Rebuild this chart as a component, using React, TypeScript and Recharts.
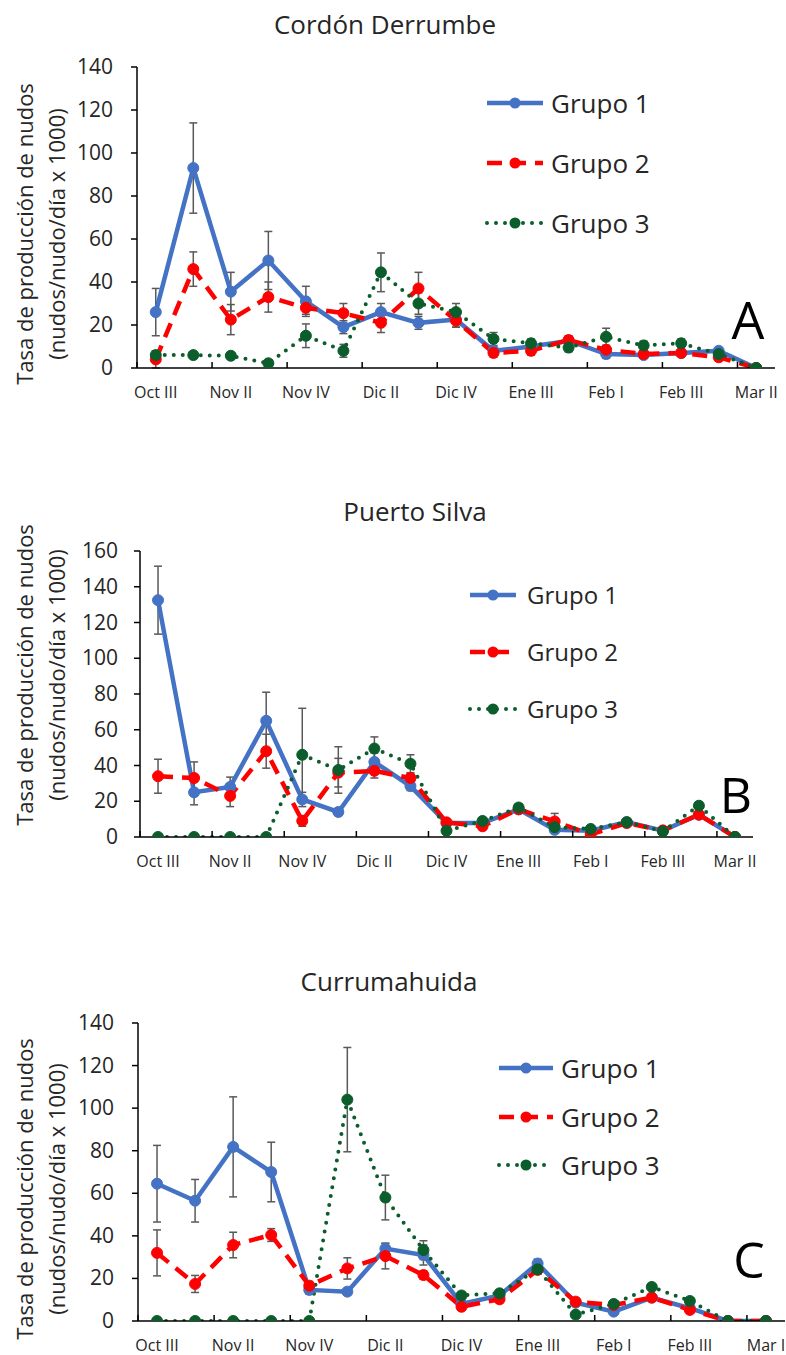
import React from 'react'
import { LineChart, Line, XAxis, YAxis, ErrorBar, Legend } from 'recharts'

const FONT = '"Open Sans", "Noto Sans", sans-serif'
const TEXT = '#262626'

// categories (semana del mes); every second one is labelled on the axis
const catsAB = ['Oct III', 'Nov I', 'Nov II', 'Nov III', 'Nov IV', 'Dic I', 'Dic II', 'Dic III', 'Dic IV', 'Ene II', 'Ene III', 'Ene IV', 'Feb I', 'Feb II', 'Feb III', 'Mar I', 'Mar II']
const catsC = ['Oct III', 'Nov I', 'Nov II', 'Nov III', 'Nov IV', 'Dic I', 'Dic II', 'Dic III', 'Dic IV', 'Ene II', 'Ene III', 'Ene IV', 'Feb I', 'Feb II', 'Feb III', 'Feb IV', 'Mar I']

// A - Cordón Derrumbe
const g1A = [26, 93, 35.5, 50, 31, 19, 26, 21, 22.5, 8, 10, 12.7, 6.5, 6, 7, 8, 0]
const e1A = [11, 21, 9, 13.5, 7, 3, 4, 3, 3.5, 2, 2, 2, 2, 1.5, 1.5, 1.5, 0]
const g2A = [4, 46, 22.5, 33, 28, 25.5, 21, 37, 22, 7, 8, 13, 8.5, 6.5, 7, 5, 0]
const e2A = [4, 8, 7, 7, 3, 4.5, 4.5, 7.5, 3, 2, 2, 2, 2, 1.5, 1.5, 1.5, 0]
const g3A = [6, 6, 5.7, 2.2, 15, 8, 44.5, 30, 26, 13.5, 11.5, 9.5, 14.5, 10.5, 11.5, 6.5, 0]
const e3A = [2, 1.5, 1.5, 1, 5.5, 3, 9, 5, 4, 3, 2, 2, 4, 2, 2, 2, 0]

// B - Puerto Silva
const g1B = [132.5, 25, 28, 65, 21, 14, 42, 28.5, 7.8, 7.8, 15.5, 4, 3.5, 8.3, 3.5, 12.5, 0]
const e1B = [19, 7, 5.5, 16, 4, 2, 5, 2.5, 1.5, 1.5, 2, 1.5, 1.5, 1.5, 1, 2, 0]
const g2B = [34, 33, 23, 48, 9, 36, 37, 33, 8.2, 6, 15.5, 8.7, 1.5, 7.8, 3.7, 12.5, 0]
const e2B = [9.5, 9, 6, 9.5, 3, 8, 4, 2.5, 1.5, 1.5, 2, 4.5, 1, 1.5, 1, 2, 0]
const g3B = [0, 0, 0, 0, 46, 37.5, 49.5, 41, 3.5, 9, 16.5, 5.5, 4.5, 8.3, 3.2, 17.5, 0]
const e3B = [0, 0, 0, 0, 26, 13, 6.5, 5, 1.5, 1.5, 2, 1.5, 1, 1.5, 1, 2, 0]

// C - Currumahuida
const g1C = [64.5, 56.5, 81.8, 70, 14.6, 13.8, 34, 31, 8, 12, 27, 8.6, 4.4, 11, 6, 0, 0]
const e1C = [18, 10, 23.5, 14, 2, 1.5, 2.5, 4.7, 1.5, 1.5, 2, 1.5, 1, 1.5, 1, 0, 0]
const g2C = [32, 17.4, 35.7, 40.4, 16.6, 24.7, 30.5, 21.6, 6.7, 10.2, 24, 9.1, 7.5, 11, 5.2, 0, 0]
const e2C = [10.8, 4, 6, 3, 2, 5, 6, 2, 1.5, 1.5, 2, 1.5, 1, 1.5, 1, 0, 0]
const g3C = [0, 0, 0, 0, 0, 104, 58, 33.3, 12, 13, 24.3, 3, 8, 16, 9.4, 0, 0]
const e3C = [0, 0, 0, 0, 0, 24.5, 10.5, 4.4, 1.5, 1.5, 2, 1, 1, 1.5, 1, 0, 0]

const ticks140 = [0, 20, 40, 60, 80, 100, 120, 140]
const ticks160 = [0, 20, 40, 60, 80, 100, 120, 140, 160]

const SERIES = [
  { key: 'g1', err: 'e1', name: 'Grupo 1', color: '#4472C4', dash: undefined as string | undefined, cap: 'butt', width: 4.5, r: 5.5 },
  { key: 'g2', err: 'e2', name: 'Grupo 2', color: '#FF0000', dash: '15 9', cap: 'butt', width: 4.5, r: 5.5 },
  { key: 'g3', err: 'e3', name: 'Grupo 3', color: '#0B5D2B', dash: '0 9', cap: 'round', width: 4, r: 5.5 },
]

const buildRows = (cats: string[], vals: number[][], errs: number[][]) =>
  cats.map((cat, i) => ({
    cat,
    g1: vals[0][i], g2: vals[1][i], g3: vals[2][i],
    e1: errs[0][i], e2: errs[1][i], e3: errs[2][i],
  }))

const makeDot = (color: string, r: number) => (props: any) => {
  const { cx, cy, index } = props
  if (cx == null || cy == null) return <g key={index} />
  return <circle key={index} cx={cx} cy={cy} r={r} fill={color} stroke={color} strokeWidth={1} />
}

// label every second week, tick mark sits on the boundary before the label (Excel style)
const XTick = (props: any) => {
  const { x, y, payload, step } = props
  const bx = x - step / 2
  return (
    <g>
      <line x1={bx} x2={bx} y1={y} y2={y - 6} stroke='#000' strokeWidth={1.5} />
      <text x={x} y={y + 30} textAnchor='middle' fontFamily={FONT} fontSize={16} fill={TEXT}>
        {payload.value}
      </text>
    </g>
  )
}

const YTick = (props: any) => {
  const { x, y, payload } = props
  return (
    <text x={x} y={y + 7} textAnchor='end' fontFamily={FONT} fontSize={21} fill={TEXT}>
      {payload.value}
    </text>
  )
}

const YTitle = ({ cy }: { cy: number }) => (
  <g fontFamily={FONT} fontSize={22} fill={TEXT}>
    <text x={33} y={cy} transform={`rotate(-90 33 ${cy})`} textAnchor='middle'>
      Tasa de producción de nudos
    </text>
    <text x={65} y={cy} transform={`rotate(-90 65 ${cy})`} textAnchor='middle'>
      (nudos/nudo/día x 1000)
    </text>
  </g>
)

const legendContent = (lineW: number, rowH: number, gap: number, fontSize: number) => (props: any) => {
  const items = props.payload ?? []
  return (
    <div>
      {items.map((it: any) => {
        const s = SERIES.find((x) => x.name === it.value) ?? SERIES[0]
        return (
          <div key={s.key} style={{ display: 'flex', alignItems: 'center', height: rowH }}>
            <svg width={lineW} height={20}>
              <line x1={2} x2={lineW - 2} y1={10} y2={10} stroke={s.color} strokeWidth={s.width}
                strokeDasharray={s.dash} strokeLinecap={s.cap as any} />
              <circle cx={lineW / 2} cy={10} r={s.r} fill={s.color} />
            </svg>
            <span style={{ marginLeft: gap, fontFamily: FONT, fontSize, color: TEXT, lineHeight: 1 }}>{s.name}</span>
          </div>
        )
      })}
    </div>
  )
}

type PanelProps = {
  top: number
  height: number
  plotLeft: number
  plotRight: number
  plotTop: number
  plotBottom: number
  rows: any[]
  yMax: number
  yTicks: number[]
  yTickGap: number
  yTitleCy: number
  legend: { left: number; top: number; lineW: number; rowH: number; gap: number; fontSize: number }
}

const Panel: React.FC<PanelProps> = (p) => {
  const W = 786
  const step = (p.plotRight - p.plotLeft) / p.rows.length
  return (
    <div style={{ position: 'absolute', left: 0, top: p.top }}>
      <LineChart
        width={W}
        height={p.height}
        data={p.rows}
        margin={{ top: p.plotTop, right: W - p.plotRight, bottom: 0, left: 0 }}>
        <XAxis
          dataKey='cat'
          height={p.height - p.plotBottom}
          padding={{ left: step / 2, right: step / 2 }}
          interval={1}
          tickSize={0}
          tickMargin={0}
          axisLine={{ stroke: '#000', strokeWidth: 1.5 }}
          tickLine={false}
          tick={<XTick step={step} />}
        />
        <YAxis
          type='number'
          width={p.plotLeft}
          domain={[0, p.yMax]}
          ticks={p.yTicks}
          interval={0}
          allowDataOverflow
          tickSize={6}
          tickMargin={p.yTickGap}
          axisLine={{ stroke: '#000', strokeWidth: 1.5 }}
          tickLine={{ stroke: '#000', strokeWidth: 1.5 }}
          tick={<YTick />}
          label={<YTitle cy={p.yTitleCy} />}
        />
        <Legend
          layout='vertical'
          align='center'
          verticalAlign='middle'
          wrapperStyle={{ left: p.legend.left, top: p.legend.top, width: 220 }}
          content={legendContent(p.legend.lineW, p.legend.rowH, p.legend.gap, p.legend.fontSize)}
        />
        {SERIES.map((s) => (
          <Line
            key={s.key}
            type='linear'
            dataKey={s.key}
            name={s.name}
            stroke={s.color}
            strokeWidth={s.width}
            strokeDasharray={s.dash}
            strokeLinecap={s.cap as any}
            dot={makeDot(s.color, s.r)}
            activeDot={false}
            isAnimationActive={false}>
            <ErrorBar dataKey={s.err} direction='y' width={4} stroke='#595959' strokeWidth={1.5} isAnimationActive={false} />
          </Line>
        ))}
      </LineChart>
    </div>
  )
}

const titleStyle: React.CSSProperties = { fontFamily: FONT, fontSize: 26, fill: TEXT } as any

export default function App() {
  const rowsA = buildRows(catsAB, [g1A, g2A, g3A], [e1A, e2A, e3A])
  const rowsB = buildRows(catsAB, [g1B, g2B, g3B], [e1B, e2B, e3B])
  const rowsC = buildRows(catsC, [g1C, g2C, g3C], [e1C, e2C, e3C])

  return (
    <div style={{ position: 'absolute', left: 0, top: 0, width: 786, height: 1355, background: '#fff', overflow: 'hidden' }}>
      <Panel
        top={0} height={420}
        plotLeft={137} plotRight={775} plotTop={67} plotBottom={368}
        rows={rowsA} yMax={140} yTicks={ticks140} yTickGap={18} yTitleCy={234}
        legend={{ left: 485, top: 73, lineW: 60, rowH: 60, gap: 6, fontSize: 26 }}
      />
      <Panel
        top={480} height={420}
        plotLeft={140} plotRight={753} plotTop={71} plotBottom={357}
        rows={rowsB} yMax={160} yTicks={ticks160} yTickGap={16} yTitleCy={195}
        legend={{ left: 468, top: 86, lineW: 50, rowH: 57, gap: 9, fontSize: 24 }}
      />
      <Panel
        top={960} height={395}
        plotLeft={138} plotRight={785} plotTop={63} plotBottom={361}
        rows={rowsC} yMax={140} yTicks={ticks140} yTickGap={18} yTitleCy={229}
        legend={{ left: 497, top: 84, lineW: 58, rowH: 48.5, gap: 6, fontSize: 26 }}
      />
      <svg width={786} height={1355} style={{ position: 'absolute', left: 0, top: 0, pointerEvents: 'none' }}>
        <text x={385} y={34} textAnchor='middle' style={titleStyle}>Cordón Derrumbe</text>
        <text x={415} y={521} textAnchor='middle' style={titleStyle}>Puerto Silva</text>
        <text x={389} y={991} textAnchor='middle' style={titleStyle}>Currumahuida</text>
        <text x={748} y={339} textAnchor='middle' fontFamily={FONT} fontSize={52} fill='#000'>A</text>
        <text x={736} y={813} textAnchor='middle' fontFamily={FONT} fontSize={50} fill='#000'>B</text>
        <text x={749} y={1278} textAnchor='middle' fontFamily={FONT} fontSize={50} fill='#000'>C</text>
      </svg>
    </div>
  )
}
